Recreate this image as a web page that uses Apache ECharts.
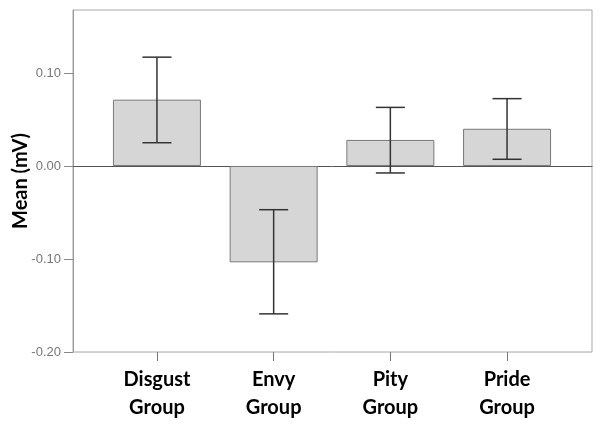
<!DOCTYPE html>
<html><head><meta charset="utf-8">
<script src="https://cdn.jsdelivr.net/npm/echarts@6/dist/echarts.min.js"></script>
<style>html,body{margin:0;padding:0;background:#fff}#c{width:601px;height:429px}</style>
</head><body><div id="c"></div>
<script>
var categories = ['Disgust\nGroup', 'Envy\nGroup', 'Pity\nGroup', 'Pride\nGroup'];
var means = [0.0713, -0.1036, 0.028, 0.040];
var errLow = [0.025, -0.159, -0.0075, 0.0072];
var errHigh = [0.117, -0.047, 0.063, 0.0724];
var yTicks = [-0.2, -0.1, 0, 0.1];
var yMin = -0.2, yMax = 0.1677;

var chart = echarts.init(document.getElementById('c'), null, {renderer: 'canvas'});
var errData = categories.map(function (c, i) { return [i, errLow[i], errHigh[i]]; });
chart.setOption({
  animation: false,
  grid: [
    {left: 73, right: 9, top: 10, bottom: 77, outerBoundsMode: 'none', containLabel: false,
     show: true, borderColor: '#a6a6a6', borderWidth: 1, backgroundColor: 'transparent'},
    {left: 98.6, right: 35.6, top: 10, bottom: 77, outerBoundsMode: 'none', containLabel: false}
  ],
  xAxis: [
    {gridIndex: 0, type: 'value', min: 0, max: 1, axisLine: {show: true, onZero: true, lineStyle: {color: '#555', width: 1}},
     axisTick: {show: false}, axisLabel: {show: false}, splitLine: {show: false}},
    {gridIndex: 1, type: 'category', data: categories, position: 'bottom',
     axisLine: {show: false, onZero: false},
     axisTick: {show: true, alignWithLabel: true, length: 9, lineStyle: {color: '#777'}},
     axisLabel: {margin: 14, color: '#000', fontFamily: 'Lato', fontWeight: 'bold', fontSize: 20, lineHeight: 28},
     splitLine: {show: false}}
  ],
  yAxis: [
    {gridIndex: 0, type: 'value', min: yMin, max: yMax,
     name: 'Mean (mV)', nameLocation: 'middle', nameGap: 42, nameMoveOverlap: false,
     nameTextStyle: {color: '#000', fontFamily: 'Lato', fontWeight: 'bold', fontSize: 20},
     axisLine: {show: true, lineStyle: {color: '#999'}},
     axisTick: {show: true, inside: false, length: 9, customValues: yTicks, lineStyle: {color: '#888', width: 1}},
     axisLabel: {customValues: yTicks, margin: 12, color: '#777', fontFamily: 'Liberation Sans', fontSize: 13,
       formatter: function (v) { return v.toFixed(2); }},
     splitLine: {show: false}},
    {gridIndex: 1, type: 'value', min: yMin, max: yMax, show: false, splitLine: {show: false}}
  ],
  series: [
    {type: 'bar', xAxisIndex: 1, yAxisIndex: 1, data: means, barWidth: 88,
     itemStyle: {color: '#d6d6d6', borderColor: '#7a7a7a', borderWidth: 1}, z: 2},
    {type: 'custom', xAxisIndex: 1, yAxisIndex: 1, data: errData, z: 3,
     renderItem: function (params, api) {
       var x = api.value(0);
       var lo = api.coord([x, api.value(1)]);
       var hi = api.coord([x, api.value(2)]);
       var hw = 14.5;
       var st = {stroke: '#333', lineWidth: 1.5};
       return {type: 'group', children: [
         {type: 'line', shape: {x1: lo[0], y1: lo[1], x2: hi[0], y2: hi[1]}, style: st},
         {type: 'line', shape: {x1: lo[0] - hw, y1: lo[1], x2: lo[0] + hw, y2: lo[1]}, style: st},
         {type: 'line', shape: {x1: hi[0] - hw, y1: hi[1], x2: hi[0] + hw, y2: hi[1]}, style: st}
       ]};
     }}
  ]
});
</script></body></html>
